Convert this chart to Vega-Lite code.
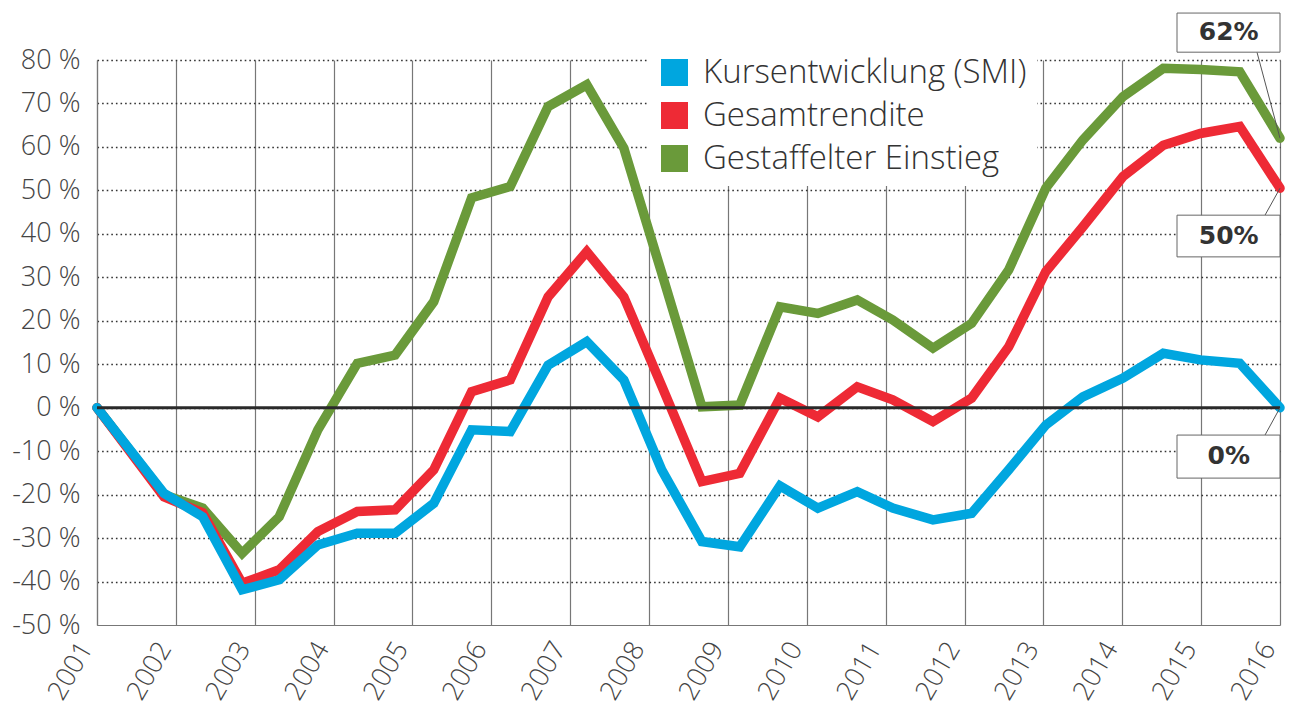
{
  "$schema": "https://vega.github.io/schema/vega-lite/v6.json",
  "width": 1183,
  "height": 565,
  "autosize": {"type": "none"},
  "padding": {"left": 97, "top": 60, "right": 20, "bottom": 96},
  "background": "white",
  "config": {"view": {"stroke": null}},
  "datasets": {
    "s": [
      {"t": 2001.0, "series": "Kursentwicklung (SMI)", "v": 0},
      {"t": 2001.85, "series": "Kursentwicklung (SMI)", "v": -19.7},
      {"t": 2002.34, "series": "Kursentwicklung (SMI)", "v": -25.1},
      {"t": 2002.84, "series": "Kursentwicklung (SMI)", "v": -41.9},
      {"t": 2003.31, "series": "Kursentwicklung (SMI)", "v": -39.6},
      {"t": 2003.80, "series": "Kursentwicklung (SMI)", "v": -31.6},
      {"t": 2004.30, "series": "Kursentwicklung (SMI)", "v": -28.9},
      {"t": 2004.78, "series": "Kursentwicklung (SMI)", "v": -28.9},
      {"t": 2005.27, "series": "Kursentwicklung (SMI)", "v": -22.0},
      {"t": 2005.75, "series": "Kursentwicklung (SMI)", "v": -5.1},
      {"t": 2006.24, "series": "Kursentwicklung (SMI)", "v": -5.5},
      {"t": 2006.72, "series": "Kursentwicklung (SMI)", "v": 9.8},
      {"t": 2007.21, "series": "Kursentwicklung (SMI)", "v": 15.2},
      {"t": 2007.68, "series": "Kursentwicklung (SMI)", "v": 6.4},
      {"t": 2008.16, "series": "Kursentwicklung (SMI)", "v": -14.3},
      {"t": 2008.67, "series": "Kursentwicklung (SMI)", "v": -30.8},
      {"t": 2009.15, "series": "Kursentwicklung (SMI)", "v": -32.0},
      {"t": 2009.66, "series": "Kursentwicklung (SMI)", "v": -18.0},
      {"t": 2010.14, "series": "Kursentwicklung (SMI)", "v": -23.1},
      {"t": 2010.64, "series": "Kursentwicklung (SMI)", "v": -19.3},
      {"t": 2011.09, "series": "Kursentwicklung (SMI)", "v": -23.1},
      {"t": 2011.60, "series": "Kursentwicklung (SMI)", "v": -25.8},
      {"t": 2012.09, "series": "Kursentwicklung (SMI)", "v": -24.3},
      {"t": 2012.56, "series": "Kursentwicklung (SMI)", "v": -14.3},
      {"t": 2013.03, "series": "Kursentwicklung (SMI)", "v": -4.0},
      {"t": 2013.50, "series": "Kursentwicklung (SMI)", "v": 2.5},
      {"t": 2014.01, "series": "Kursentwicklung (SMI)", "v": 6.8},
      {"t": 2014.52, "series": "Kursentwicklung (SMI)", "v": 12.5},
      {"t": 2014.99, "series": "Kursentwicklung (SMI)", "v": 11.0},
      {"t": 2015.49, "series": "Kursentwicklung (SMI)", "v": 10.2},
      {"t": 2016.0, "series": "Kursentwicklung (SMI)", "v": 0},
      {"t": 2001.0, "series": "Gesamtrendite", "v": 0},
      {"t": 2001.85, "series": "Gesamtrendite", "v": -20.5},
      {"t": 2002.34, "series": "Gesamtrendite", "v": -24.2},
      {"t": 2002.84, "series": "Gesamtrendite", "v": -40.4},
      {"t": 2003.31, "series": "Gesamtrendite", "v": -37.3},
      {"t": 2003.80, "series": "Gesamtrendite", "v": -28.5},
      {"t": 2004.30, "series": "Gesamtrendite", "v": -23.9},
      {"t": 2004.78, "series": "Gesamtrendite", "v": -23.5},
      {"t": 2005.27, "series": "Gesamtrendite", "v": -14.3},
      {"t": 2005.75, "series": "Gesamtrendite", "v": 3.7},
      {"t": 2006.24, "series": "Gesamtrendite", "v": 6.4},
      {"t": 2006.72, "series": "Gesamtrendite", "v": 25.5},
      {"t": 2007.21, "series": "Gesamtrendite", "v": 35.9},
      {"t": 2007.68, "series": "Gesamtrendite", "v": 25.5},
      {"t": 2008.16, "series": "Gesamtrendite", "v": 5.0},
      {"t": 2008.67, "series": "Gesamtrendite", "v": -17.0},
      {"t": 2009.15, "series": "Gesamtrendite", "v": -15.1},
      {"t": 2009.66, "series": "Gesamtrendite", "v": 2.2},
      {"t": 2010.14, "series": "Gesamtrendite", "v": -2.1},
      {"t": 2010.64, "series": "Gesamtrendite", "v": 4.8},
      {"t": 2011.09, "series": "Gesamtrendite", "v": 1.8},
      {"t": 2011.60, "series": "Gesamtrendite", "v": -3.2},
      {"t": 2012.09, "series": "Gesamtrendite", "v": 2.2},
      {"t": 2012.56, "series": "Gesamtrendite", "v": 14.0},
      {"t": 2013.03, "series": "Gesamtrendite", "v": 31.3},
      {"t": 2013.50, "series": "Gesamtrendite", "v": 41.6},
      {"t": 2014.01, "series": "Gesamtrendite", "v": 53.2},
      {"t": 2014.52, "series": "Gesamtrendite", "v": 60.4},
      {"t": 2014.99, "series": "Gesamtrendite", "v": 63.1},
      {"t": 2015.49, "series": "Gesamtrendite", "v": 64.7},
      {"t": 2016.0, "series": "Gesamtrendite", "v": 50.5},
      {"t": 2001.0, "series": "Gestaffelter Einstieg", "v": 0},
      {"t": 2001.85, "series": "Gestaffelter Einstieg", "v": -20.0},
      {"t": 2002.34, "series": "Gestaffelter Einstieg", "v": -23.1},
      {"t": 2002.84, "series": "Gestaffelter Einstieg", "v": -33.5},
      {"t": 2003.31, "series": "Gestaffelter Einstieg", "v": -25.1},
      {"t": 2003.80, "series": "Gestaffelter Einstieg", "v": -5.1},
      {"t": 2004.30, "series": "Gestaffelter Einstieg", "v": 10.2},
      {"t": 2004.78, "series": "Gestaffelter Einstieg", "v": 12.1},
      {"t": 2005.27, "series": "Gestaffelter Einstieg", "v": 24.4},
      {"t": 2005.75, "series": "Gestaffelter Einstieg", "v": 48.3},
      {"t": 2006.24, "series": "Gestaffelter Einstieg", "v": 50.9},
      {"t": 2006.72, "series": "Gestaffelter Einstieg", "v": 69.3},
      {"t": 2007.21, "series": "Gestaffelter Einstieg", "v": 74.3},
      {"t": 2007.68, "series": "Gestaffelter Einstieg", "v": 59.7},
      {"t": 2008.16, "series": "Gestaffelter Einstieg", "v": 31.0},
      {"t": 2008.67, "series": "Gestaffelter Einstieg", "v": 0.2},
      {"t": 2009.15, "series": "Gestaffelter Einstieg", "v": 0.6},
      {"t": 2009.66, "series": "Gestaffelter Einstieg", "v": 23.2},
      {"t": 2010.14, "series": "Gestaffelter Einstieg", "v": 21.7},
      {"t": 2010.64, "series": "Gestaffelter Einstieg", "v": 24.8},
      {"t": 2011.09, "series": "Gestaffelter Einstieg", "v": 20.2},
      {"t": 2011.60, "series": "Gestaffelter Einstieg", "v": 13.7},
      {"t": 2012.09, "series": "Gestaffelter Einstieg", "v": 19.4},
      {"t": 2012.56, "series": "Gestaffelter Einstieg", "v": 31.7},
      {"t": 2013.03, "series": "Gestaffelter Einstieg", "v": 50.5},
      {"t": 2013.50, "series": "Gestaffelter Einstieg", "v": 61.6},
      {"t": 2014.01, "series": "Gestaffelter Einstieg", "v": 71.6},
      {"t": 2014.52, "series": "Gestaffelter Einstieg", "v": 78.1},
      {"t": 2014.99, "series": "Gestaffelter Einstieg", "v": 77.8},
      {"t": 2015.49, "series": "Gestaffelter Einstieg", "v": 77.3},
      {"t": 2016.0, "series": "Gestaffelter Einstieg", "v": 62.0}
    ],
    "b": [
      {"label": "62%", "t": 2014.694, "t2": 2016, "v": 90.8, "v2": 81.8, "tx": 2015.35, "ty": 86.4, "lx": 2015.708, "ly": 81.8, "lx2": 2016, "ly2": 62.0},
      {"label": "50%", "t": 2014.694, "t2": 2016, "v": 44.3, "v2": 34.7, "tx": 2015.35, "ty": 39.6, "lx": 2015.81, "ly": 44.3, "lx2": 2016, "ly2": 50.5},
      {"label": "0%", "t": 2014.694, "t2": 2016, "v": -6.3, "v2": -16.2, "tx": 2015.35, "ty": -11.1, "lx": 2015.81, "ly": -6.3, "lx2": 2016, "ly2": 0}
    ],
    "z": [{"v": 0}]
  },
  "layer": [
    {
      "data": {"name": "s"},
      "transform": [{"filter": "datum.series === 'Gestaffelter Einstieg'"}],
      "mark": {"type": "line", "strokeWidth": 9.5, "strokeJoin": "miter", "strokeCap": "round"},
      "encoding": {
        "x": {"field": "t", "type": "quantitative", "title": null, "scale": {"domain": [2001, 2016], "nice": false, "zero": false},
          "axis": {"title": null, "values": [2001,2002,2003,2004,2005,2006,2007,2008,2009,2010,2011,2012,2013,2014,2015,2016], "format": "d",
            "labelAngle": -60, "labelAlign": "right", "labelBaseline": "middle", "labelPadding": 19, "labelOffset": -11, "labelFlush": false, "labelOverlap": false,
            "labelFontSize": 27, "labelFont": "Open Sans", "labelFontWeight": 300, "labelColor": "#444", "ticks": false,
            "domainColor": "#777", "domainWidth": 1.2, "grid": true, "gridColor": "#777", "gridWidth": 1.2}},
        "y": {"field": "v", "type": "quantitative", "title": null, "scale": {"domain": [-50, 80], "nice": false, "zero": false},
          "axis": {"title": null, "values": [-50,-40,-30,-20,-10,0,10,20,30,40,50,60,70,80], "labelExpr": "datum.value + ' %'",
            "labelFontSize": 27, "labelFont": "Open Sans", "labelFontWeight": 300, "labelColor": "#444", "labelPadding": 17, "labelFlush": false,
            "ticks": false, "domainColor": "#777", "domainWidth": 1.2, "grid": true, "gridDash": [1.6, 3],
            "gridColor": {"condition": {"test": "datum.value === -50", "value": "transparent"}, "value": "#333"}, "gridWidth": 1.6}},
        "color": {"field": "series", "type": "nominal",
          "scale": {"domain": ["Kursentwicklung (SMI)", "Gesamtrendite", "Gestaffelter Einstieg"], "range": ["#00a6df", "#ee2a35", "#6a9a3a"]},
          "legend": {"orient": "none", "legendX": 551, "legendY": -14, "title": null, "symbolType": "square", "symbolSize": 729,
            "labelFontSize": 33, "labelFont": "Open Sans", "labelFontWeight": 300, "labelColor": "#333", "labelLimit": 600, "rowPadding": 9, "labelOffset": 12,
            "padding": 10, "fillColor": "white", "symbolStrokeWidth": 0,
            "encode": {"symbols": {"update": {"fill": {"scale": "color", "field": "value"}, "fillOpacity": {"value": 1}}}}}}
      }
    },
    {
      "data": {"name": "s"},
      "transform": [{"filter": "datum.series === 'Gesamtrendite'"}],
      "mark": {"type": "line", "strokeWidth": 9.5, "strokeJoin": "miter", "strokeCap": "round"},
      "encoding": {
        "x": {"field": "t", "type": "quantitative", "title": null},
        "y": {"field": "v", "type": "quantitative", "title": null},
        "color": {"field": "series", "type": "nominal", "title": null}
      }
    },
    {
      "data": {"name": "s"},
      "transform": [{"filter": "datum.series === 'Kursentwicklung (SMI)'"}],
      "mark": {"type": "line", "strokeWidth": 9.5, "strokeJoin": "miter", "strokeCap": "round"},
      "encoding": {
        "x": {"field": "t", "type": "quantitative", "title": null},
        "y": {"field": "v", "type": "quantitative", "title": null},
        "color": {"field": "series", "type": "nominal", "title": null}
      }
    },
    {
      "data": {"name": "z"},
      "mark": {"type": "rule", "color": "#2a2a2a", "strokeWidth": 3},
      "encoding": {
        "y": {"field": "v", "type": "quantitative", "title": null}
      }
    },
    {
      "data": {"name": "b"},
      "mark": {"type": "rule", "color": "#555", "strokeWidth": 1},
      "encoding": {
        "x": {"field": "lx", "type": "quantitative", "title": null},
        "x2": {"field": "lx2"},
        "y": {"field": "ly", "type": "quantitative", "title": null},
        "y2": {"field": "ly2"}
      }
    },
    {
      "data": {"name": "b"},
      "mark": {"type": "rect", "fill": "white", "stroke": "#666", "strokeWidth": 1},
      "encoding": {
        "x": {"field": "t", "type": "quantitative", "title": null},
        "x2": {"field": "t2"},
        "y": {"field": "v", "type": "quantitative", "title": null},
        "y2": {"field": "v2"}
      }
    },
    {
      "data": {"name": "b"},
      "mark": {"type": "text", "font": "DejaVu Sans", "fontWeight": "bold", "fontSize": 25, "color": "#333", "align": "center", "baseline": "middle"},
      "encoding": {
        "x": {"field": "tx", "type": "quantitative", "title": null},
        "y": {"field": "ty", "type": "quantitative", "title": null},
        "text": {"field": "label"}
      }
    }
  ]
}
